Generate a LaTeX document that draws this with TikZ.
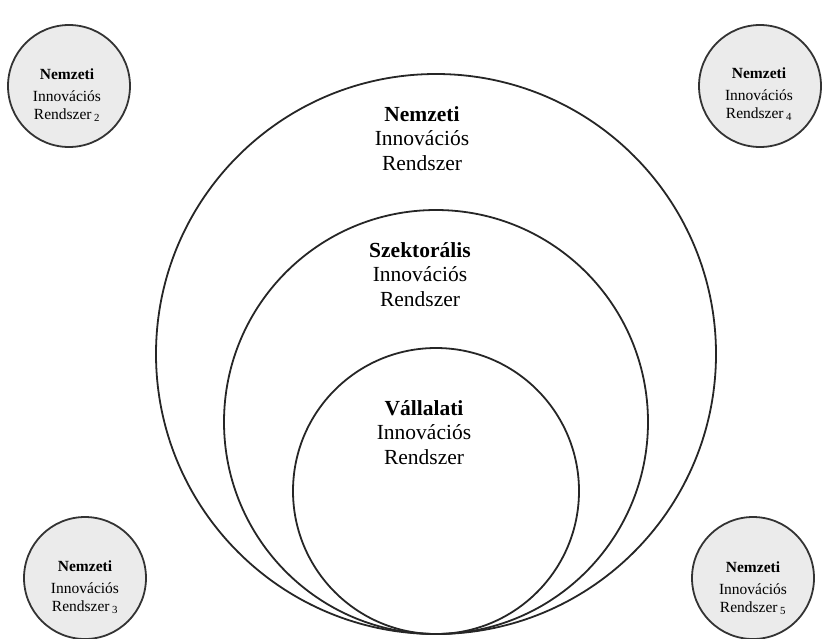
\documentclass[tikz,border=0pt]{standalone}
\usepackage{fontspec}
\setmainfont{Liberation Serif}
\begin{document}
\begin{tikzpicture}[x=1pt,y=-1pt,
  ring/.style={circle,draw=black!85,line width=1.8pt,inner sep=0pt},
  smallc/.style={circle,draw=black!80,line width=1.8pt,fill=black!8,minimum size=122pt,inner sep=0pt},
  smalltext/.style={align=center,inner sep=0pt,font=\fontsize{15.5}{17.5}\selectfont},
  bigtext/.style={align=center,font=\fontsize{21.5}{24.5}\selectfont,inner sep=0pt,anchor=north}]
\useasboundingbox (0,0) rectangle (832,638);
\node[ring,minimum size=560pt] (nat) at (436,354) {};
\node[ring,minimum size=424pt] (sec) at (436,422) {};
\node[ring,minimum size=286pt] (firm) at (436,491) {};
\node[bigtext] (tnat) at (422,106) {\textbf{Nemzeti}\\Innovációs\\Rendszer};
\node[bigtext] (tsec) at (420,242) {\textbf{Szektorális}\\Innovációs\\Rendszer};
\node[bigtext] (tfirm) at (424,400) {\textbf{Vállalati}\\Innovációs\\Rendszer};
\node[smallc] (n2) at (69,86) {};
\node[smallc] (n4) at (760,86) {};
\node[smallc] (n3) at (85,578) {};
\node[smallc] (n5) at (753,578) {};
\node[smalltext] (t2) at (67,95) {\textbf{Nemzeti}\\[5pt]Innovációs\\Rendszer\,\textsubscript{2}};
\node[smalltext] (t4) at (759,94) {\textbf{Nemzeti}\\[5pt]Innovációs\\Rendszer\,\textsubscript{4}};
\node[smalltext] (t3) at (85,587) {\textbf{Nemzeti}\\[5pt]Innovációs\\Rendszer\,\textsubscript{3}};
\node[smalltext] (t5) at (753,588) {\textbf{Nemzeti}\\[5pt]Innovációs\\Rendszer\,\textsubscript{5}};
\end{tikzpicture}
\end{document}
